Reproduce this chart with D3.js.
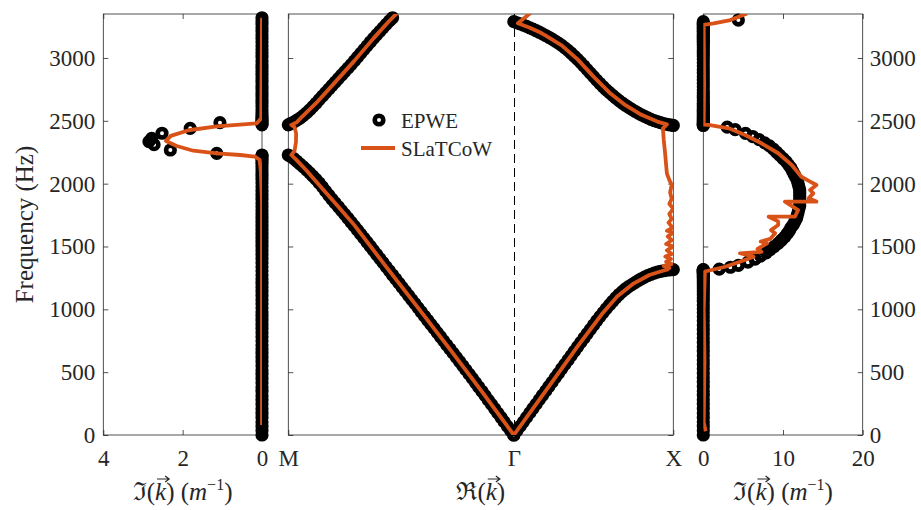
<!DOCTYPE html>
<html>
<head>
<meta charset="utf-8">
<script src="https://cdn.jsdelivr.net/npm/d3@7"></script>
<style>
  body { margin: 0; background: #fff; }
  text { font-family: "Liberation Serif", "DejaVu Serif", serif; fill: #262626; }
</style>
</head>
<body>
<div id="chart"></div>
<script>
// ---- Data ----
// EPWE, real part of k along Gamma-X: [k, frequency]
const gxBand1 = [[0,0],[0.02,35],[0.04,70],[0.06,105],[0.08,140],[0.10,176],[0.12,211],[0.14,246],[0.16,281],[0.18,316],[0.20,351],[0.22,386],[0.24,421],[0.26,456],[0.28,491],[0.30,527],[0.32,562],[0.34,597],[0.36,632],[0.38,667],[0.40,702],[0.42,737],[0.44,772],[0.46,806],[0.48,840],[0.50,875],[0.52,909],[0.54,942],[0.56,974],[0.58,1005],[0.60,1035],[0.62,1064],[0.64,1092],[0.66,1118],[0.68,1141],[0.70,1162],[0.72,1180],[0.74,1197],[0.76,1213],[0.78,1228],[0.80,1243],[0.82,1256],[0.84,1268],[0.86,1279],[0.88,1288],[0.90,1296],[0.92,1302],[0.94,1307],[0.96,1312],[0.98,1314],[1.0,1316]]
const gxBand2 = [[0,3289],[0.02,3280],[0.04,3271],[0.06,3262],[0.08,3251],[0.10,3240],[0.12,3229],[0.14,3217],[0.16,3205],[0.18,3192],[0.20,3179],[0.22,3165],[0.24,3150],[0.26,3134],[0.28,3118],[0.30,3100],[0.32,3081],[0.34,3060],[0.36,3038],[0.38,3014],[0.40,2989],[0.42,2963],[0.44,2936],[0.46,2908],[0.48,2880],[0.50,2852],[0.52,2824],[0.54,2797],[0.56,2771],[0.58,2746],[0.60,2724],[0.62,2702],[0.64,2681],[0.66,2661],[0.68,2642],[0.70,2624],[0.72,2607],[0.74,2591],[0.76,2576],[0.78,2561],[0.80,2548],[0.82,2535],[0.84,2523],[0.86,2512],[0.88,2502],[0.90,2494],[0.92,2486],[0.94,2478],[0.96,2472],[0.98,2467],[1.0,2463]]
// EPWE, real part of k along Gamma-M (drawn to the left of Gamma)
const gmBand1 = [[0,0],[-0.02,35],[-0.04,69],[-0.06,104],[-0.08,139],[-0.10,174],[-0.12,209],[-0.14,244],[-0.16,278],[-0.18,313],[-0.20,348],[-0.22,382],[-0.24,416],[-0.26,450],[-0.28,484],[-0.30,518],[-0.32,551],[-0.34,585],[-0.36,618],[-0.38,651],[-0.40,684],[-0.42,716],[-0.44,749],[-0.46,782],[-0.48,815],[-0.50,848],[-0.52,880],[-0.54,913],[-0.56,946],[-0.58,979],[-0.60,1012],[-0.62,1045],[-0.64,1077],[-0.66,1110],[-0.68,1143],[-0.70,1175],[-0.72,1208],[-0.74,1241],[-0.76,1273],[-0.78,1306],[-0.80,1338],[-0.82,1371],[-0.84,1404],[-0.86,1436],[-0.88,1469],[-0.90,1502],[-0.92,1534],[-0.94,1566],[-0.96,1598],[-0.98,1630],[-1.00,1662],[-1.02,1693],[-1.04,1725],[-1.06,1756],[-1.08,1786],[-1.10,1816],[-1.12,1846],[-1.14,1876],[-1.16,1908],[-1.18,1941],[-1.20,1975],[-1.22,2005],[-1.24,2034],[-1.26,2060],[-1.28,2086],[-1.30,2110],[-1.32,2134],[-1.34,2156],[-1.36,2178],[-1.38,2200],[-1.40,2218],[-1.414,2228]]
const gmBand2 = [[-1.414,2468],[-1.40,2477],[-1.38,2490],[-1.36,2505],[-1.34,2521],[-1.32,2541],[-1.30,2563],[-1.28,2587],[-1.26,2613],[-1.24,2640],[-1.22,2668],[-1.20,2696],[-1.18,2724],[-1.16,2752],[-1.14,2780],[-1.12,2808],[-1.10,2836],[-1.08,2864],[-1.06,2892],[-1.04,2919],[-1.02,2947],[-1.00,2977],[-0.98,3007],[-0.96,3037],[-0.94,3067],[-0.92,3097],[-0.90,3127],[-0.88,3156],[-0.86,3184],[-0.84,3212],[-0.82,3240],[-0.80,3268],[-0.78,3295],[-0.76,3320]]
// EPWE, imaginary part inside the band gaps: [Im k, frequency]
const gxGapIm = [[2.0,1320],[3.4,1335],[4.4,1350],[5.6,1375],[6.5,1400],[7.2,1425],[7.9,1450],[8.4,1475],[8.9,1500],[9.4,1525],[9.8,1550],[10.2,1575],[10.5,1600],[10.8,1625],[11.0,1650],[11.3,1675],[11.5,1700],[11.7,1725],[11.8,1750],[11.9,1775],[12.0,1800],[12.1,1825],[12.1,1850],[12.1,1875],[12.1,1900],[12.1,1925],[12.1,1950],[12.0,1975],[11.9,2000],[11.8,2025],[11.6,2050],[11.4,2075],[11.2,2100],[11.0,2125],[10.7,2150],[10.4,2175],[10.0,2200],[9.6,2225],[9.2,2250],[8.8,2275],[8.3,2300],[7.7,2325],[7.0,2350],[6.2,2375],[5.3,2400],[4.0,2430],[3.0,2450],[4.4,3302]]
const gmGapIm = [[1.14,2241],[2.31,2268],[2.72,2310],[2.85,2335],[2.78,2360],[2.52,2401],[1.81,2440],[1.06,2485]]

// SLaTCoW curves
const slReGX = [[0,0],[0.2,352],[0.4,705],[0.55,958],[0.65,1105],[0.75,1205],[0.85,1273],[0.93,1305],[0.965,1318],[0.975,1330],[0.94,1345],[0.99,1360],[0.955,1380],[0.985,1400],[0.95,1420],[0.99,1440],[0.96,1470],[1.0,1500],[0.955,1520],[0.99,1550],[0.965,1580],[1.0,1610],[0.96,1625],[0.995,1650],[0.97,1690],[0.99,1720],[0.975,1760],[1.0,1800],[0.975,1840],[0.99,1880],[0.98,1930],[0.99,1990],[0.975,2030],[0.96,2080],[0.955,2150],[0.948,2250],[0.94,2350],[0.935,2440],[0.96,2472],[0.9,2494],[0.8,2548],[0.7,2624],[0.6,2724],[0.5,2852],[0.4,2989],[0.3,3100],[0.2,3177],[0.17,3200],[0.1,3240],[0.026,3276],[0.11,3364]]
const slReGM = [[0,0],[-0.2,345],[-0.4,682],[-0.6,1012],[-0.8,1338],[-1.0,1670],[-1.1,1816],[-1.2,1960],[-1.3,2105],[-1.36,2185],[-1.395,2228],[-1.375,2260],[-1.366,2330],[-1.365,2400],[-1.375,2450],[-1.395,2468],[-1.36,2490],[-1.33,2530],[-1.24,2640],[-1.12,2808],[-1.0,2977],[-0.88,3156],[-0.79,3282],[-0.73,3360]]
const slImGM = [[0,80],[0,1850],[0.03,2100],[0.06,2190],[0.18,2215],[0.55,2228],[1.14,2241],[1.73,2262],[2.15,2300],[2.42,2340],[2.3,2380],[1.85,2425],[1.14,2455],[0.47,2472],[0.13,2480],[0.02,2520],[0,3320]]
const slImGX = [[0.3,30],[0.05,100],[0.15,600],[0.05,1000],[0.2,1300],[0.5,1305],[2.75,1339],[4.6,1379],[6.3,1419],[4.6,1446],[7.3,1458],[6.8,1480],[8.0,1525],[7.2,1540],[8.4,1560],[9.0,1605],[8.5,1630],[9.4,1671],[9.4,1700],[8.2,1737],[11.5,1737],[11.9,1790],[10.25,1857],[14.2,1857],[13.2,1883],[13.8,1923],[13.4,1950],[14.2,1989],[13.4,2016],[12.3,2055],[11.1,2148],[9.4,2242],[7.3,2321],[5.25,2387],[3.2,2440],[0.67,2467],[0.05,2470],[0.1,2800],[0.05,3263],[1.3,3276],[3.4,3302],[5.5,3355]]

// Ticks
const freqTicks = [0, 500, 1000, 1500, 2000, 2500, 3000]
const imGMTicks = [4, 2, 0]
const imGXTicks = [0, 10, 20]
const symPos = [-1.414, 0, 1]
const symLabels = ['M', 'Γ', 'X']

// ---- Layout ----
const dim = { width: 921, height: 510, top: 14, bottom: 435 }
const orange = '#D95319'

const svg = d3.select('#chart').append('svg')
  .attr('width', dim.width).attr('height', dim.height)

const yScale = d3.scaleLinear().domain([0, 3350]).range([dim.bottom, dim.top])
const xGM = d3.scaleLinear().domain([4, 0]).range([103.3, 262])
const xRe = d3.scaleLinear().domain([-1.414, 1]).range([288.3, 673.3])
const xGX = d3.scaleLinear().domain([0, 20]).range([703.3, 862.7])

function panelAxes(id, x, xTicks, xFmt, yLeft, yRight) {
  const [x0, x1] = x.range()
  const g = svg.append('g')
  svg.append('clipPath').attr('id', 'clip-' + id)
    .append('rect').attr('x', x0).attr('y', dim.top)
    .attr('width', x1 - x0).attr('height', dim.bottom - dim.top)

  g.append('g').attr('transform', `translate(0,${dim.bottom})`)
    .call(d3.axisBottom(x).tickValues(xTicks).tickFormat(xFmt)
      .tickSizeInner(-5).tickSizeOuter(0).tickPadding(15))
  g.append('g').attr('transform', `translate(0,${dim.top})`)
    .call(d3.axisTop(x).tickValues(xTicks).tickFormat('')
      .tickSizeInner(-5).tickSizeOuter(0))
  g.append('g').attr('transform', `translate(${x0},0)`)
    .call(d3.axisLeft(yScale).tickValues(freqTicks).tickFormat(yLeft ? d3.format('d') : '')
      .tickSizeInner(-5).tickSizeOuter(0).tickPadding(8))
  g.append('g').attr('transform', `translate(${x1},0)`)
    .call(d3.axisRight(yScale).tickValues(freqTicks).tickFormat(yRight ? d3.format('d') : '')
      .tickSizeInner(-5).tickSizeOuter(0).tickPadding(7))

  g.selectAll('.domain').remove()
  g.selectAll('.tick line').attr('stroke', '#262626').attr('stroke-width', 0.8)
  g.selectAll('.tick text').attr('font-size', 23).attr('fill', '#262626')
    .style('font-family', '"Liberation Serif", "DejaVu Serif", serif')

  g.append('rect').attr('x', x0).attr('y', dim.top)
    .attr('width', x1 - x0).attr('height', dim.bottom - dim.top)
    .attr('fill', 'none').attr('stroke', '#262626').attr('stroke-width', 0.8)
  return svg.append('g')
}

function rings(g, data, x) {
  g.append('g').selectAll('circle')
    .data(data)
    .join('circle')
    .attr('cx', d => x(d[0]))
    .attr('cy', d => yScale(d[1]))
    .attr('r', 4.3)
    .attr('fill', 'none')
    .attr('stroke', '#000')
    .attr('stroke-width', 4.6)
}

function curve(g, data, x, id) {
  g.append('path')
    .datum(data)
    .attr('d', d3.line().x(d => x(d[0])).y(d => yScale(d[1])))
    .attr('fill', 'none')
    .attr('stroke', orange)
    .attr('stroke-width', 3.8)
    .attr('stroke-linejoin', 'round')
    .attr('clip-path', `url(#clip-${id})`)
}

// Panel 1: Im(k), Gamma-M
const p1 = panelAxes('gm', xGM, imGMTicks, d3.format('d'), true, false)
rings(p1, gmBand1.concat(gmBand2).map(d => [0, d[1]]).concat(gmGapIm), xGM)
curve(p1, slImGM, xGM, 'gm')

// Panel 2: Re(k), M - Gamma - X
const p2 = panelAxes('re', xRe, symPos, (d, i) => symLabels[i], false, false)
const gx0 = Math.round(xRe(0)) + 0.5
p2.append('line')
  .attr('x1', gx0).attr('x2', gx0)
  .attr('y1', dim.top).attr('y2', dim.bottom)
  .attr('stroke', '#000').attr('stroke-width', 1)
  .attr('stroke-dasharray', '9,5')
rings(p2, gmBand1.concat(gmBand2, gxBand1, gxBand2), xRe)
curve(p2, slReGM, xRe, 're')
curve(p2, slReGX, xRe, 're')

// Panel 3: Im(k), Gamma-X
const p3 = panelAxes('gx', xGX, imGXTicks, d3.format('d'), false, true)
rings(p3, gxBand1.concat(gxBand2).map(d => [0, d[1]]).concat(gxGapIm), xGX)
curve(p3, slImGX, xGX, 'gx')

// Legend
const leg = svg.append('g')
leg.append('circle').attr('cx', 379).attr('cy', 120).attr('r', 4.3)
  .attr('fill', 'none').attr('stroke', '#000').attr('stroke-width', 4.6)
leg.append('text').attr('x', 401).attr('y', 128).attr('font-size', 21).text('EPWE')
leg.append('line').attr('x1', 361).attr('x2', 395).attr('y1', 148).attr('y2', 148)
  .attr('stroke', orange).attr('stroke-width', 3.8)
leg.append('text').attr('x', 401).attr('y', 156).attr('font-size', 21).text('SLaTCoW')

// Axis labels, with a drawn vector arrow over k
function kLabel(cx, prefix, unit) {
  const t = svg.append('text').attr('x', cx).attr('y', 500)
    .attr('font-size', 25).attr('text-anchor', 'middle')
  t.append('tspan').text(prefix + '(')
  t.append('tspan').attr('font-style', 'italic').text('k')
  t.append('tspan').text(')')
  if (unit) {
    t.append('tspan').text(' (')
    t.append('tspan').attr('font-style', 'italic').text('m')
    t.append('tspan').attr('font-size', 16).attr('dy', -10).text('−1')
    t.append('tspan').attr('dy', 10).text(')')
  }
  const ext = t.node().getExtentOfChar(prefix.length + 1)
  const ax0 = ext.x + 2, ax1 = ext.x + ext.width + 3, ay = ext.y + 1
  svg.append('path')
    .attr('d', `M${ax0},${ay}H${ax1}M${ax1 - 4},${ay - 3}L${ax1},${ay}L${ax1 - 4},${ay + 3}`)
    .attr('fill', 'none').attr('stroke', '#262626').attr('stroke-width', 1.2)
}
kLabel(182.6, 'ℑ', true)
kLabel(480.8, 'ℜ', false)
kLabel(783, 'ℑ', true)

svg.append('text')
  .attr('transform', 'translate(33,224.5) rotate(-90)')
  .attr('text-anchor', 'middle')
  .attr('font-size', 25)
  .text('Frequency (Hz)')
</script>
</body>
</html>
